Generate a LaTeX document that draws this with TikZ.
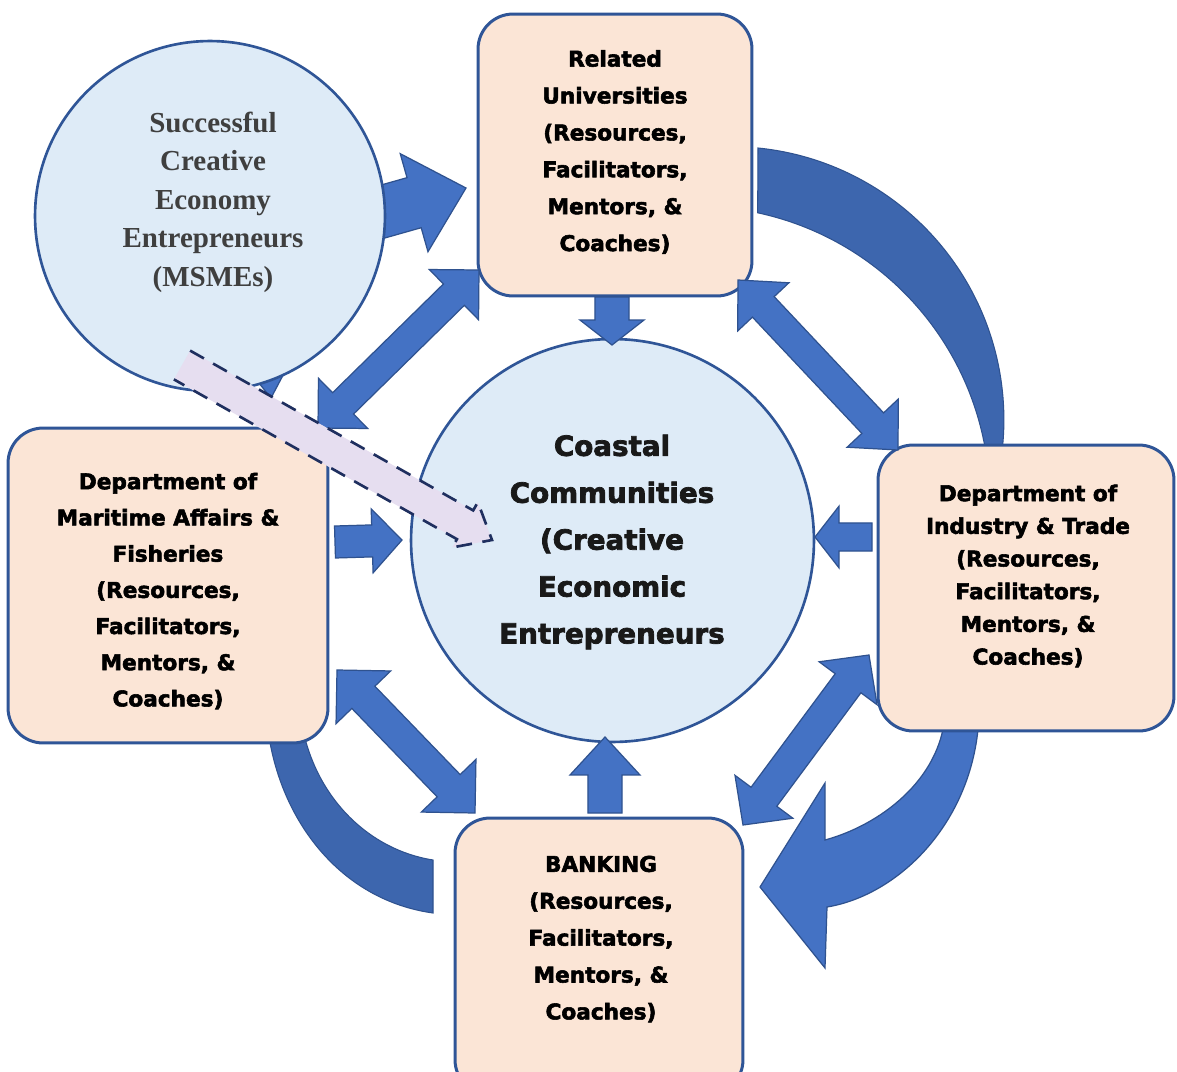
\documentclass[tikz,border=0pt]{standalone}
\usepackage{fontspec}
\setmainfont{Liberation Serif}
\newfontfamily\boxfont{DejaVu Sans}[BoldFeatures={FakeBold=2.6}]
\usetikzlibrary{calc}
\definecolor{peach}{HTML}{FBE5D6}
\definecolor{lblue}{HTML}{DEEBF7}
\definecolor{edgeblue}{HTML}{2F5597}
\definecolor{arrowblue}{HTML}{4472C4}
\definecolor{arrowedge}{HTML}{2F528F}
\definecolor{bandblue}{HTML}{3D66AE}
\definecolor{lav}{HTML}{E6DEF0}
\definecolor{navy}{HTML}{1F2F5F}
\definecolor{msmetext}{HTML}{3F3F3F}
% single block arrow: [style]{from}{to}{shaft half width}{head half width}{head length}
\newcommand\blockS[6][]{%
  \coordinate (hb) at ($(#3)!#6!(#2)$);
  \path[#1] ($(#2)!#4!90:(#3)$) -- ($(hb)!#4!90:(#3)$) -- ($(hb)!#5!90:(#3)$) -- (#3)
    -- ($(hb)!#5!-90:(#3)$) -- ($(hb)!#4!-90:(#3)$) -- ($(#2)!#4!-90:(#3)$) -- cycle;}
% single block arrow, outline open at the tail: [fill style]{draw style}{from}{to}{shaft}{head}{head length}
\newcommand\blockSopen[7][]{%
  \coordinate (hb) at ($(#4)!#7!(#3)$);
  \fill[#1] ($(#3)!#5!90:(#4)$) -- ($(hb)!#5!90:(#4)$) -- ($(hb)!#6!90:(#4)$) -- (#4)
    -- ($(hb)!#6!-90:(#4)$) -- ($(hb)!#5!-90:(#4)$) -- ($(#3)!#5!-90:(#4)$) -- cycle;
  \draw[#2] ($(#3)!#5!90:(#4)$) -- ($(hb)!#5!90:(#4)$) -- ($(hb)!#6!90:(#4)$) -- (#4)
    -- ($(hb)!#6!-90:(#4)$) -- ($(hb)!#5!-90:(#4)$) -- ($(#3)!#5!-90:(#4)$);}
% double block arrow
\newcommand\blockD[6][]{%
  \coordinate (ha) at ($(#2)!#6!(#3)$);
  \coordinate (hb) at ($(#3)!#6!(#2)$);
  \path[#1] (#2) -- ($(ha)!#5!90:(#3)$) -- ($(ha)!#4!90:(#3)$) -- ($(hb)!#4!90:(#3)$)
    -- ($(hb)!#5!90:(#3)$) -- (#3) -- ($(hb)!#5!-90:(#3)$) -- ($(hb)!#4!-90:(#3)$)
    -- ($(ha)!#4!-90:(#3)$) -- ($(ha)!#5!-90:(#3)$) -- cycle;}
\tikzset{
  box/.style={draw=edgeblue, fill=peach, line width=1.7pt, rounded corners=20pt, inner sep=0pt},
  bubble/.style={circle, draw=edgeblue, fill=lblue, line width=1.5pt, inner sep=0pt},
  boxtext/.style={font=\boxfont\bfseries\fontsize{12.3}{21}\selectfont, align=center, text=black},
  centertext/.style={font=\boxfont\bfseries\fontsize{15.8}{26.7}\selectfont, align=center, text=black!90},
  msmetext/.style={font=\bfseries\fontsize{16.5}{21.9}\selectfont, align=center, text=msmetext},
  blockarrow/.style={fill=arrowblue, draw=arrowedge, line width=0.7pt, line join=miter},
  band/.style={fill=bandblue, draw=arrowedge, line width=0.6pt},
  lavfill/.style={fill=lav},
  dashline/.style={draw=navy, line width=1.5pt, dash pattern=on 9pt off 6pt}
}
\begin{document}
\begin{tikzpicture}[x=0.02cm, y=-0.02cm]
\useasboundingbox (0,0) rectangle (1177,1072);
\fill[white] (0,0) rectangle (1177,1072);
\clip (0,0) rectangle (1177,1072);

% curved bands
\path[band] (758,148) arc[start angle=-84.3, end angle=7, radius=273]
  -- (986,453) arc[start angle=-9.2, end angle=-77.9, radius=293.7] -- cycle;
\path[band] (303,730) .. controls (318,800) and (370,850) .. (433,860)
  -- (433,913) .. controls (340,900) and (280,820) .. (268,730) -- cycle;
\path[blockarrow] (979,715) .. controls (975,820) and (900,895) .. (827,907)
  -- (825,968) -- (760,887) -- (825,783) -- (825,840)
  .. controls (880,825) and (940,780) .. (945,715) -- cycle;

% boxes and central circle
\node[box, minimum width=5.48cm, minimum height=5.64cm] (univ) at (615,155) {};
\node[box, minimum width=6.4cm, minimum height=6.3cm] (mar) at (168,585.5) {};
\node[box, minimum width=5.92cm, minimum height=5.72cm] (ind) at (1026,588) {};
\node[box, minimum width=5.76cm, minimum height=5.54cm] (bank) at (599,956.5) {};
\node[bubble, minimum size=8.06cm] (coast) at (612.5,540.5) {};

\node[boxtext] (univT) at (615,152) {Related\\Universities\\(Resources,\\Facilitators,\\Mentors, \&\\Coaches)};
\node[boxtext, font=\boxfont\bfseries\fontsize{12.3}{20.6}\selectfont] (marT) at (168,591) {Department of\\Maritime Affairs \&\\Fisheries\\(Resources,\\Facilitators,\\Mentors, \&\\Coaches)};
\node[boxtext, font=\boxfont\bfseries\fontsize{12.3}{18.6}\selectfont] (indT) at (1028,576) {Department of\\Industry \& Trade\\(Resources,\\Facilitators,\\Mentors, \&\\Coaches)};
\node[boxtext] (bankT) at (601,939) {BANKING\\(Resources,\\Facilitators,\\Mentors, \&\\Coaches)};
\node[centertext] (coastT) at (612,542) {Coastal\\Communities\\(Creative\\Economic\\Entrepreneurs};

% connector end points
\coordinate (a1s) at (360,218); \coordinate (a1e) at (466,188);
\coordinate (a2s) at (612,297); \coordinate (a2e) at (612,345);
\coordinate (a3s) at (479,270); \coordinate (a3e) at (318,428);
\coordinate (a4s) at (738,280); \coordinate (a4e) at (898,450);
\coordinate (a5s) at (335,542); \coordinate (a5e) at (402,540);
\coordinate (a6s) at (872,537); \coordinate (a6e) at (815,537);
\coordinate (a7s) at (337,670); \coordinate (a7e) at (475,813);
\coordinate (a8s) at (869,655); \coordinate (a8e) at (743,825);
\coordinate (a9s) at (605,813); \coordinate (a9e) at (605,737);
\coordinate (dss) at (182,365); \coordinate (dse) at (492,540);

% block arrows
\blockS[blockarrow]{a1s}{a1e}{14.8pt}{29pt}{30.7pt}
\blockS[blockarrow]{a2s}{a2e}{9.7pt}{18.2pt}{14.2pt}
\blockD[blockarrow]{a3s}{a3e}{8.5pt}{20pt}{20pt}
\blockD[blockarrow]{a4s}{a4e}{8.5pt}{20pt}{21pt}
\blockS[blockarrow]{a5s}{a5e}{9.1pt}{18.2pt}{17pt}
\blockS[blockarrow]{a6s}{a6e}{8pt}{17.6pt}{13.7pt}
\blockD[blockarrow]{a7s}{a7e}{9.1pt}{21.6pt}{21.6pt}
\blockD[blockarrow]{a8s}{a8e}{9.1pt}{20.5pt}{20pt}
\blockS[blockarrow]{a9s}{a9e}{9.7pt}{19.9pt}{21.6pt}

% small wedge peeking below the MSME circle
\path[blockarrow] (250,372) -- (290,362) -- (271,398) -- cycle;

% MSME circle
\node[bubble, minimum size=7cm] (msme) at (210,216) {};
\node[msmetext] (msmeT) at (213,202) {Successful\\Creative\\Economy\\Entrepreneurs\\(MSMEs)};

% dashed arrow
\blockSopen[lavfill]{dashline}{dss}{dse}{9.4pt}{14.8pt}{17.6pt}
\end{tikzpicture}
\end{document}
